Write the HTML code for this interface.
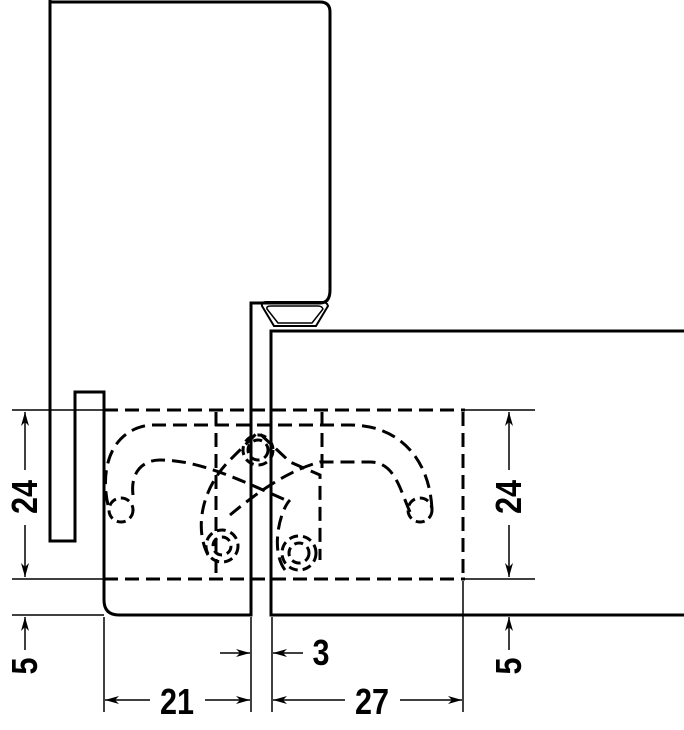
<!DOCTYPE html>
<html><head><style>html,body{margin:0;padding:0;background:#fff;}svg{display:block}</style></head>
<body>
<svg width="684" height="730" viewBox="0 0 684 730" xmlns="http://www.w3.org/2000/svg" font-family="Liberation Sans, sans-serif" font-weight="bold">
<defs>
<marker id="a" viewBox="0 0 14 10" refX="14" refY="5" markerWidth="14" markerHeight="10" orient="auto" markerUnits="userSpaceOnUse"><path d="M0,1 L14,5 L0,9 L4,5z" fill="#000"/></marker>
</defs>
<g fill="none" stroke="#000" stroke-width="3">
<path d="M50,0 V541 H75 V392 H104 V600 Q104,615 119,615 H251 V303 H320 Q330,303 330,290 V12 Q330,2 320,2 H50"/>
<path d="M684,331 H271 V615 H684"/>
<path d="M262,306 L274,326 H316 L328,306 Q327,302 322,302 H266 Q261,302 262,306z" stroke-width="2"/>
<path d="M267,309 L278,323 H312 L323,309 Q322,306 318,306 H271 Q266,306 267,309z" stroke-width="1.5"/>
</g>
<g fill="none" stroke="#000" stroke-width="3" stroke-dasharray="14,7">
<path d="M104,410 H465"/>
<path d="M104,579 H465"/>
<path d="M463,412 V579"/>
<path d="M216,412 V575"/>
<path d="M322,412 V470"/>
<path d="M108,505 C100,470 110,430 150,425 H350 C400,425 430,460 432,510"/>
<path d="M133,495 C130,470 145,460 160,460 C200,460 240,480 290,502"/>
<path d="M410,512 C400,490 395,462 370,462 H320 C290,470 260,490 230,515"/>
<path d="M208,555 C195,530 200,490 230,460 L258,432 L290,462 L320,475 V560"/>
<path d="M285,570 C270,550 280,510 290,500"/>
</g>
<g fill="none" stroke="#000" stroke-width="3" stroke-dasharray="9,5">
<circle cx="258" cy="450" r="10"/>
<circle cx="258" cy="450" r="15"/>
<circle cx="222" cy="546" r="9"/>
<circle cx="222" cy="546" r="16"/>
<circle cx="299" cy="553" r="10"/>
<circle cx="299" cy="553" r="17"/>
<circle cx="121" cy="510" r="12"/>
<circle cx="420" cy="510" r="12"/>
</g>
<g stroke="#000" stroke-width="1.5" fill="none">
<path d="M12,410 H104 M12,579 H104 M12,615 H104 M465,410 H535 M465,579 H535"/>
<path d="M104,617 V712 M251,617 V712 M272,617 V712 M463,581 V712"/>
<path d="M25,470 V412" marker-end="url(#a)"/><path d="M25,525 V577" marker-end="url(#a)"/>
<path d="M25,650 V617" marker-end="url(#a)"/>
<path d="M509,470 V412" marker-end="url(#a)"/><path d="M509,525 V577" marker-end="url(#a)"/>
<path d="M509,650 V617" marker-end="url(#a)"/>
<path d="M220,653 H250" marker-end="url(#a)"/><path d="M303,653 H273" marker-end="url(#a)"/>
<path d="M150,700 H105" marker-end="url(#a)"/><path d="M205,700 H250" marker-end="url(#a)"/>
<path d="M345,700 H273" marker-end="url(#a)"/><path d="M400,700 H462" marker-end="url(#a)"/>
</g>
<g font-size="36" fill="#000" text-anchor="middle">
<text transform="translate(37,497) rotate(-90) scale(0.85,1)">24</text>
<text transform="translate(521,497) rotate(-90) scale(0.85,1)">24</text>
<text transform="translate(37,666) rotate(-90) scale(0.85,1)">5</text>
<text transform="translate(521,666) rotate(-90) scale(0.85,1)">5</text>
<text transform="translate(177,714) scale(0.85,1)">21</text>
<text transform="translate(372,714) scale(0.85,1)">27</text>
<text transform="translate(321,665) scale(0.85,1)">3</text>
</g>
</svg>
</body></html>
